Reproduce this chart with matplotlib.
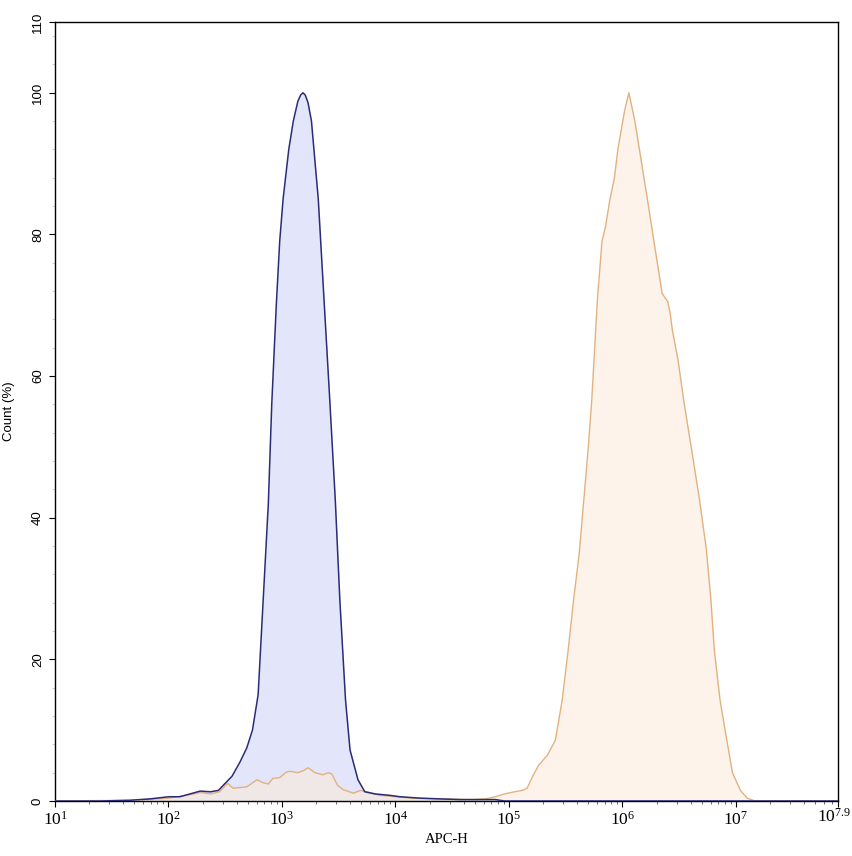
import numpy as np
import matplotlib
matplotlib.use("Agg")
import matplotlib.pyplot as plt
from matplotlib.ticker import FixedLocator, LogLocator, NullFormatter

plt.rcParams['mathtext.fontset'] = 'custom'
plt.rcParams['mathtext.rm'] = 'Liberation Serif'
plt.rcParams['mathtext.it'] = 'Liberation Serif'
plt.rcParams['mathtext.default'] = 'rm'

# Isotype control (blue): log10 APC-H exponent, count %
blue_exp = [1.00, 1.40, 1.66, 1.84, 2.00, 2.10, 2.19, 2.28, 2.37, 2.44, 2.50, 2.56, 2.63,
            2.69, 2.74, 2.79, 2.83, 2.88, 2.91, 2.95, 2.98, 3.01, 3.06, 3.10, 3.14, 3.165,
            3.185, 3.205, 3.23, 3.26, 3.32, 3.37, 3.42, 3.47, 3.51, 3.56, 3.60, 3.67, 3.73,
            3.82, 3.95, 4.04, 4.22, 4.39, 4.57, 4.74, 4.88, 4.96, 7.90]
blue_cnt = [0.0, 0.0, 0.1, 0.3, 0.6, 0.6, 1.0, 1.4, 1.3, 1.5, 2.5, 3.5, 5.5,
            7.5, 10.0, 15.0, 27.0, 42.0, 56.0, 70.0, 79.0, 85.0, 92.0, 96.0, 98.8, 99.7,
            100.0, 99.7, 98.6, 96.0, 85.0, 71.0, 57.0, 42.5, 28.4, 14.3, 7.2, 3.0, 1.3,
            1.0, 0.8, 0.6, 0.4, 0.3, 0.2, 0.2, 0.2, 0.0, 0.0]

# Stained sample (orange)
orange_exp = [1.00, 1.66, 2.00, 2.19, 2.28, 2.37, 2.45, 2.52, 2.57, 2.69, 2.78, 2.83, 2.88,
              2.92, 2.98, 3.04, 3.07, 3.14, 3.19, 3.23, 3.29, 3.36, 3.41, 3.44, 3.49, 3.54,
              3.63, 3.69, 3.75, 3.86, 4.01, 4.15, 4.39, 4.66, 4.79, 4.88, 4.96, 5.05, 5.12,
              5.16, 5.21, 5.26, 5.34, 5.41, 5.47, 5.52, 5.57, 5.62, 5.66, 5.70, 5.73, 5.78,
              5.82, 5.85, 5.89, 5.93, 5.96, 6.02, 6.057, 6.11, 6.15, 6.22, 6.29, 6.35, 6.40,
              6.42, 6.44, 6.49, 6.54, 6.61, 6.68, 6.74, 6.78, 6.81, 6.86, 6.92, 6.97, 7.04,
              7.10, 7.17, 7.90]
orange_cnt = [0.0, 0.1, 0.4, 0.9, 1.2, 1.0, 1.3, 2.5, 1.8, 2.0, 3.0, 2.6, 2.4,
              3.2, 3.3, 4.1, 4.2, 4.0, 4.3, 4.7, 4.0, 3.7, 4.0, 3.8, 2.2, 1.6,
              1.1, 1.5, 1.3, 0.8, 0.6, 0.4, 0.3, 0.2, 0.3, 0.6, 1.0, 1.3, 1.5,
              1.8, 3.5, 5.0, 6.5, 8.6, 14.3, 21.0, 28.4, 35.0, 42.5, 50.0, 56.6, 70.8,
              79.0, 81.0, 84.9, 88.0, 92.0, 97.5, 100.0, 96.0, 92.0, 85.0, 77.8, 71.7, 70.5,
              69.0, 66.5, 62.3, 56.6, 49.6, 42.5, 35.5, 28.4, 21.3, 14.3, 8.6, 4.0, 1.5,
              0.4, 0.0, 0.0]

x_tick_exp = [1, 2, 3, 4, 5, 6, 7, 7.9]
x_tick_labels = [r"10$^{1}$", r"10$^{2}$", r"10$^{3}$", r"10$^{4}$", r"10$^{5}$",
                 r"10$^{6}$", r"10$^{7}$", r"10$^{7.9}$"]
y_ticks = [0, 20, 40, 60, 80, 100, 110]

fig = plt.figure(figsize=(8.53, 8.56), dpi=100)
ax = fig.add_axes([55/853, 55/856, 783/853, 779/856])

bx = 10 ** np.array(blue_exp)
ox = 10 ** np.array(orange_exp)

ax.fill_between(bx, blue_cnt, 0, color='#e3e5fa', lw=0, zorder=1)
ax.fill_between(ox, orange_cnt, 0, color='#fde9d6', alpha=0.5, lw=0, zorder=2)
ax.plot(bx, blue_cnt, color='#2b2b78', lw=1.1, zorder=4)
ax.plot(ox, orange_cnt, color='#e2b27e', lw=1.0, zorder=3)

ax.set_xscale('log')
ax.set_xlim(10, 10 ** 7.9)
ax.set_ylim(0, 110)

ax.xaxis.set_major_locator(FixedLocator([10 ** e for e in x_tick_exp]))
# last label drawn separately so it can be nudged inside the figure
ax.set_xticklabels(x_tick_labels[:-1] + [""], fontsize=12.5, family='Liberation Serif')
ax.annotate(x_tick_labels[-1], xy=(10 ** x_tick_exp[-1], 0),
            xycoords=ax.get_xaxis_transform(), xytext=(-4, -7), textcoords='offset pixels',
            ha='center', va='top', fontsize=12.5, family='Liberation Serif')
ax.xaxis.set_minor_locator(LogLocator(base=10, subs=np.arange(2, 10), numticks=100))
ax.xaxis.set_minor_formatter(NullFormatter())

ax.set_yticks(y_ticks)
ax.set_yticklabels([str(v) for v in y_ticks], rotation=90, va='center',
                   family='Liberation Sans', fontsize=9.5, color='#222222')
ax.set_yticks(np.arange(0, 110, 4), minor=True)

ax.tick_params(axis='both', which='major', direction='out', length=4, width=0.8, colors='black')
ax.tick_params(axis='x', which='minor', direction='out', length=2.5, width=0.6, color='#555555')
ax.tick_params(axis='y', which='minor', direction='out', length=2, width=0.5, color='#bbbbbb')
ax.tick_params(axis='x', which='major', pad=3)
ax.tick_params(axis='y', which='major', pad=4)

for s in ax.spines.values():
    s.set_linewidth(1.0)
    s.set_color('black')

ax.set_xlabel('APC-H', family='Liberation Serif', fontsize=10.5, labelpad=3)
ax.set_ylabel('Count (%)', family='Liberation Sans', fontsize=9.5, labelpad=12)

fig.savefig('out.png', dpi=100)
